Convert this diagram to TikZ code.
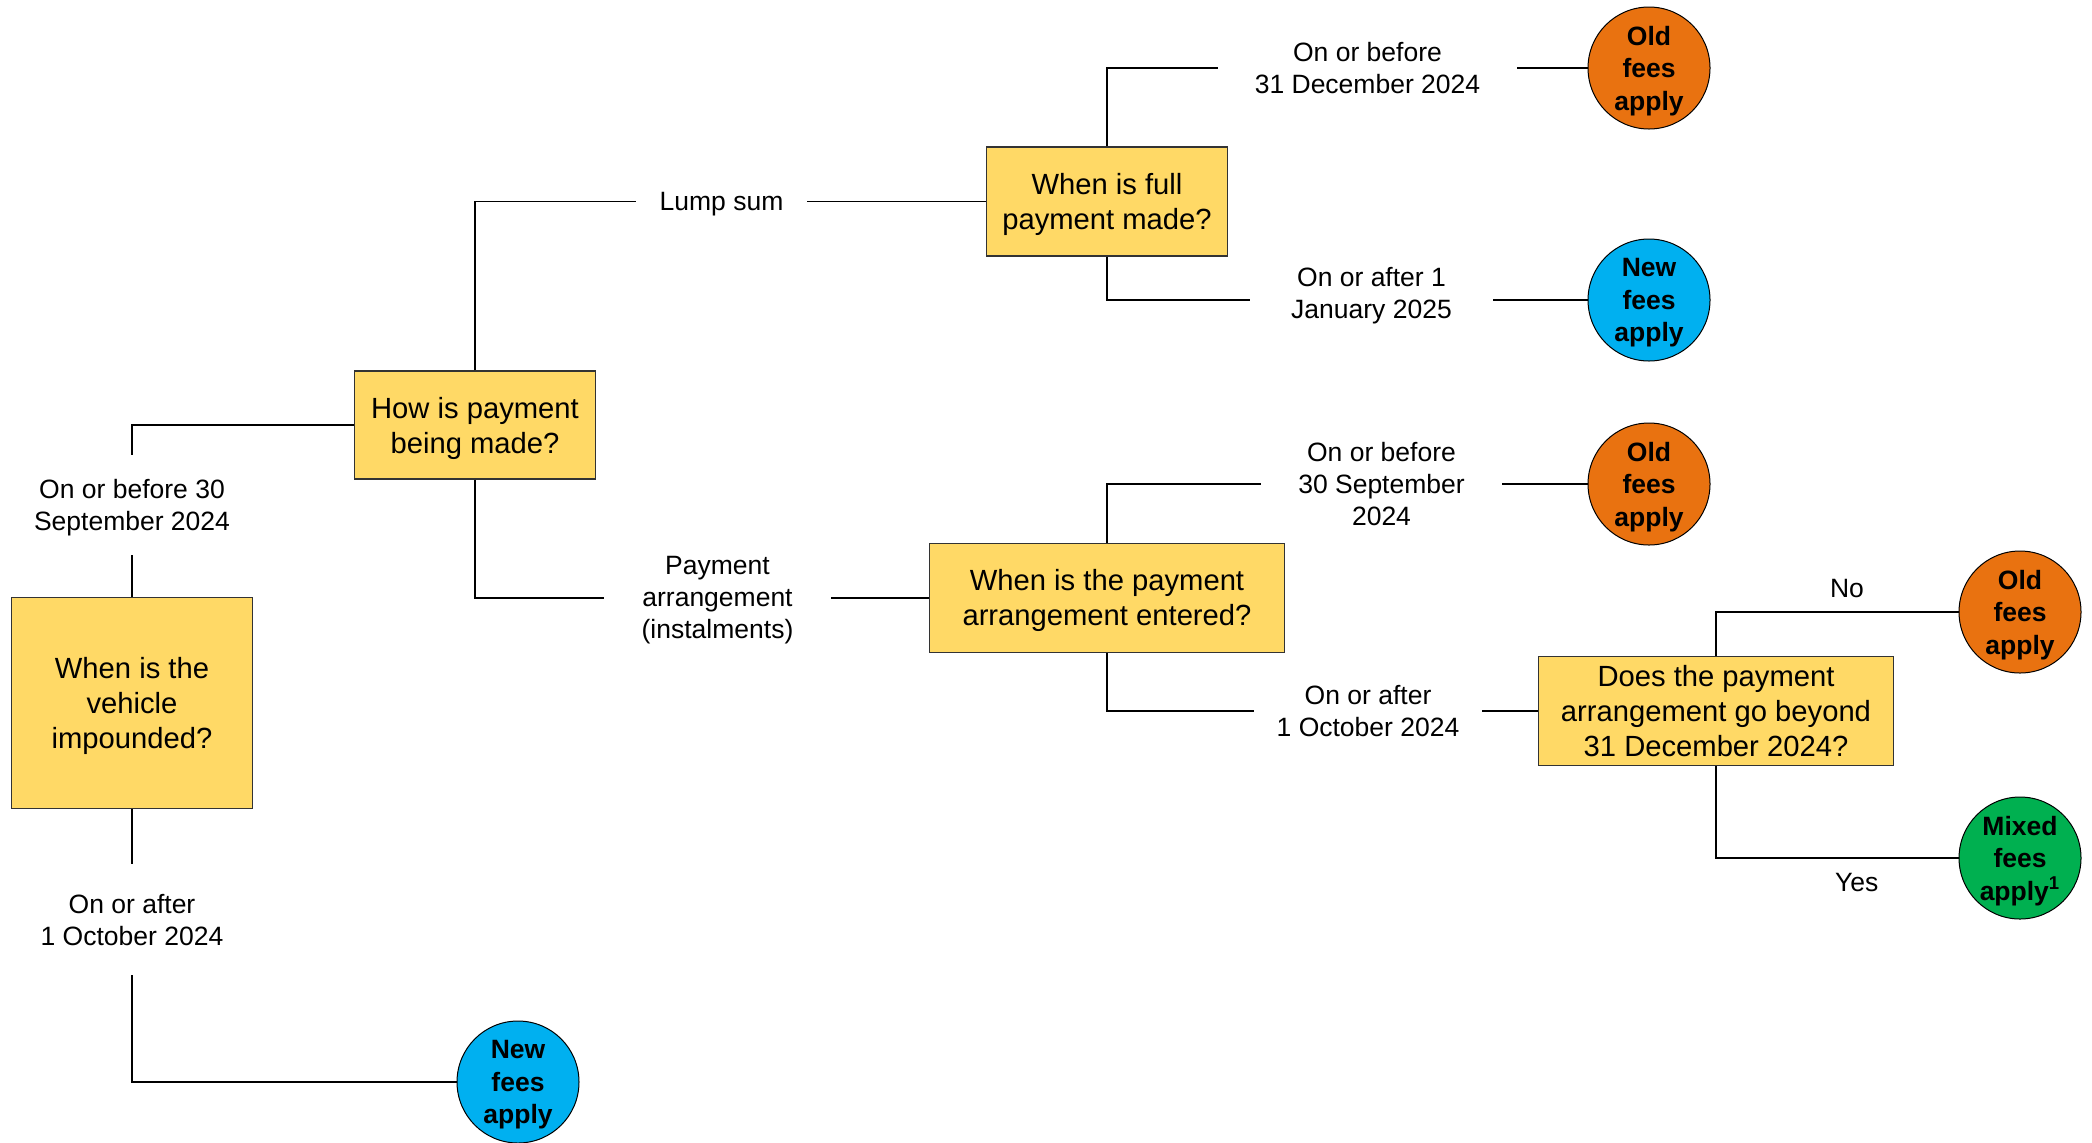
\documentclass[tikz,border=0pt]{standalone}
\usepackage{fontspec}
\setmainfont{Liberation Sans}
\definecolor{boxyellow}{HTML}{FFD966}
\definecolor{oldorange}{HTML}{E97210}
\definecolor{newblue}{HTML}{00B0F0}
\definecolor{mixgreen}{HTML}{00B050}
\begin{document}
\begin{tikzpicture}[x=0.5pt,y=-0.5pt,
  qbox/.style={draw=black!80, line width=0.6pt, fill=boxyellow, align=center,
    font=\fontsize{14.6}{17.5}\selectfont, inner sep=0pt, text depth=0pt},
  endc/.style={circle, draw=black, line width=0.5pt, minimum size=61pt, inner sep=0pt,
    align=center, font=\fontsize{13.25}{16.3}\selectfont\bfseries, text depth=0pt},
  oldc/.style={endc, fill=oldorange},
  newc/.style={endc, fill=newblue},
  mixc/.style={endc, fill=mixgreen},
  lbl/.style={align=center, inner sep=0pt, font=\fontsize{13.25}{16}\selectfont, text depth=0pt},
  conn/.style={line width=0.9pt, black}]
\useasboundingbox (0,0) rectangle (2092,1142);

% question boxes
\node[qbox, minimum width=120.75pt, minimum height=105.5pt] (q1) at (132,703) {When is the\\vehicle\\impounded?};
\node[qbox, minimum width=120.75pt, minimum height=54pt] (q2) at (475,425) {How is payment\\being made?};
\node[qbox, minimum width=120.75pt, minimum height=54.5pt] (q3) at (1107,201.5) {When is full\\payment made?};
\node[qbox, minimum width=177.5pt, minimum height=54.5pt] (q4) at (1107,597.7) {When is the payment\\arrangement entered?};
\node[qbox, minimum width=177.5pt, minimum height=54.5pt] (q5) at (1716,711) {Does the payment\\arrangement go beyond\\31 December 2024?};

% outcome circles
\node[oldc] (c1) at (1649,68) {Old\\fees\\apply};
\node[newc] (c2) at (1649,300) {New\\fees\\apply};
\node[oldc] (c3) at (1649,484) {Old\\fees\\apply};
\node[oldc] (c4) at (2020,612) {Old\\fees\\apply};
\node[mixc] (c5) at (2020,858) {Mixed\\fees\\apply\textsuperscript{1}};
\node[newc] (c6) at (518,1082) {New\\fees\\apply};

% branch labels
\node[lbl, minimum height=50pt] (l1) at (132,505) {On or before 30\\September 2024};
\node[lbl, minimum height=55.5pt] (l2) at (132,919.5) {On or after\\1 October 2024};
\node[lbl, minimum width=85.5pt] (ls) at (721.5,201.5) {Lump sum};
\node[lbl, minimum width=113.5pt] (pa) at (717.5,597.7) {Payment\\arrangement\\(instalments)};
\node[lbl, minimum width=149.5pt] (ob31) at (1367.5,68) {On or before\\31 December 2024};
\node[lbl, minimum width=121.5pt, text depth=6.6pt] (oa1) at (1371.5,300) {On or after 1\\January 2025};
\node[lbl, minimum width=120.5pt] (ob30) at (1381.5,484) {On or before\\30 September\\2024};
\node[lbl, minimum width=114pt] (oa1o) at (1368,711) {On or after\\1 October 2024};

% connectors
\draw[conn] (q1.north) -- (l1.south);
\draw[conn] (l1.north) |- (q2.west);
\draw[conn] (q1.south) -- (l2.north);
\draw[conn] (l2.south) |- (c6.west);
\draw[conn] (q2.north) |- (ls.west);
\draw[conn] (ls.east) -- (q3.west);
\draw[conn] (q2.south) |- (pa.west);
\draw[conn] (pa.east) -- (q4.west);
\draw[conn] (q3.north) |- (ob31.west);
\draw[conn] (ob31.east) -- (c1.west);
\draw[conn] (q3.south) |- (oa1.west);
\draw[conn] (oa1.east) -- (c2.west);
\draw[conn] (q4.north) |- (ob30.west);
\draw[conn] (ob30.east) -- (c3.west);
\draw[conn] (q4.south) |- (oa1o.west);
\draw[conn] (oa1o.east) -- (q5.west);
\draw[conn] (q5.north) |- (c4.west) node[lbl, pos=0.77, above=7pt] {No};
\draw[conn] (q5.south) |- (c5.west) node[lbl, pos=0.79, below=7pt] {Yes};
\end{tikzpicture}
\end{document}
